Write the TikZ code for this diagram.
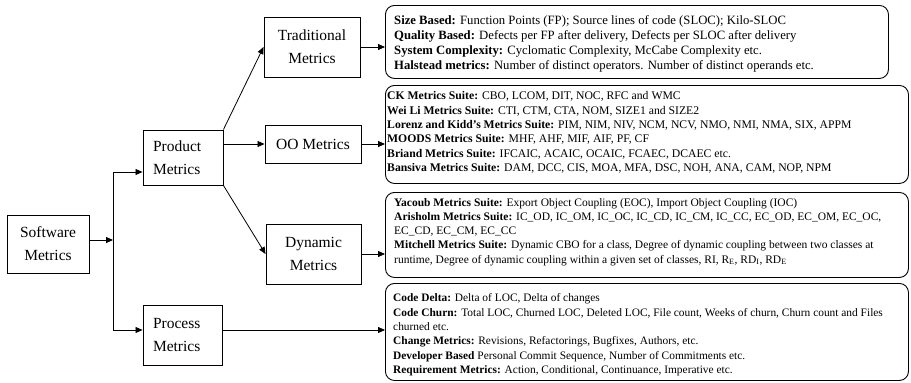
\documentclass[tikz,border=0pt]{standalone}
\usepackage{fontspec}
\setmainfont{Liberation Serif}
\usetikzlibrary{arrows.meta}
\begin{document}
\begin{tikzpicture}[x=1pt,y=-1pt,
  catbox/.style={draw,line width=0.9pt,minimum width=#1,inner sep=0pt,font=\fontsize{15.5}{23}\selectfont,align=center},
  leftbox/.style={draw,line width=0.9pt,minimum width=#1,inner sep=0pt,font=\fontsize{15.5}{23}\selectfont,align=left},
  listframe/.style={draw,line width=0.9pt,rounded corners=9pt,anchor=north west,inner sep=0pt,minimum width=523pt},
  listtext/.style={anchor=west,inner sep=0pt,align=left},
  arr/.style={line width=0.8pt,-{Triangle[length=7pt,width=6pt]}},
  ln/.style={line width=0.8pt}]
\useasboundingbox (0,0) rectangle (911,383);
% left boxes
\node[catbox=82pt,minimum height=58pt] (soft) at (48,244) {Software\\Metrics};
\node[leftbox=80pt,minimum height=55pt,text width=60pt,inner xsep=10pt] (prod) at (183,157.5) {Product\\Metrics};
\node[leftbox=79pt,minimum height=60pt,text width=59pt,inner xsep=10pt] (proc) at (182.5,335) {Process\\Metrics};
\node[catbox=96pt,minimum height=60pt] (trad) at (312,47) {Traditional\\Metrics};
\node[catbox=96pt,minimum height=38pt] (oo) at (313,144) {OO Metrics};
\node[catbox=95pt,minimum height=60pt] (dyn) at (313.5,254) {Dynamic\\Metrics};
% right boxes (frames)
\node[listframe,minimum width=503pt,minimum height=73pt] (b1) at (385,5) {};
\node[listframe,minimum height=98pt] (b2) at (385,85) {};
\node[listframe,minimum height=85pt] (b3) at (385,192) {};
\node[listframe,minimum height=97pt] (b4) at (385,283) {};
% texts (yshift is in page direction: positive = up)
\node[listtext,font=\fontsize{12.7}{14.8}\selectfont] (t1) at ([xshift=9pt,yshift=-2pt]b1.west) {%
\textbf{Size Based:} Function Points (FP); Source lines of code (SLOC); Kilo-SLOC\\
\textbf{Quality Based:} Defects per FP after delivery, Defects per SLOC after delivery\\
\textbf{System Complexity:} Cyclomatic Complexity, McCabe Complexity etc.\\
\textbf{Halstead metrics:} Number of distinct operators. Number of distinct operands etc.};
\node[listtext,font=\fontsize{11.7}{14.4}\selectfont] (t2) at ([xshift=2pt,yshift=2pt]b2.west) {%
\textbf{CK Metrics Suite:} CBO, LCOM, DIT, NOC, RFC and WMC\\
\textbf{Wei Li Metrics Suite:} CTI, CTM, CTA, NOM, SIZE1 and SIZE2\\
\textbf{Lorenz and Kidd’s Metrics Suite:} PIM, NIM, NIV, NCM, NCV, NMO, NMI, NMA, SIX, APPM\\
\textbf{MOODS Metrics Suite:} MHF, AHF, MIF, AIF, PF, CF\\
\textbf{Briand Metrics Suite:} IFCAIC, ACAIC, OCAIC, FCAEC, DCAEC etc.\\
\textbf{Bansiva Metrics Suite:} DAM, DCC, CIS, MOA, MFA, DSC, NOH, ANA, CAM, NOP, NPM};
\node[listtext,font=\fontsize{11.5}{14.2}\selectfont] (t3) at ([xshift=9pt,yshift=3pt]b3.west) {%
\textbf{Yacoub Metrics Suite:} Export Object Coupling (EOC), Import Object Coupling (IOC)\\
\textbf{Arisholm Metrics Suite:} IC\_OD, IC\_OM, IC\_OC, IC\_CD, IC\_CM, IC\_CC, EC\_OD, EC\_OM, EC\_OC,\\
EC\_CD, EC\_CM, EC\_CC\\
\textbf{Mitchell Metrics Suite:} Dynamic CBO for a class, Degree of dynamic coupling between two classes at\\
runtime, Degree of dynamic coupling within a given set of classes, RI, R\textsubscript{E}, RD\textsubscript{I}, RD\textsubscript{E}};
\node[listtext,font=\fontsize{11.4}{14.4}\selectfont] (t4) at ([xshift=8pt,yshift=-3pt]b4.west) {%
\textbf{Code Delta:} Delta of LOC, Delta of changes\\
\textbf{Code Churn:} Total LOC, Churned LOC, Deleted LOC, File count, Weeks of churn, Churn count and Files\\
churned etc.\\
\textbf{Change Metrics:} Revisions, Refactorings, Bugfixes, Authors, etc.\\
\textbf{Developer Based} Personal Commit Sequence, Number of Commitments etc.\\
\textbf{Requirement Metrics:} Action, Conditional, Continuance, Imperative etc.};
% connectors
\coordinate (j) at (113,240);
\coordinate (jp) at (113,172);
\coordinate (jq) at (113,330);
\draw[arr] (soft.east |- j) -- (j);
\draw[ln] (jp) -- (jq);
\draw[arr] (jp) -- (prod.west |- jp);
\draw[arr] (jq) -- (proc.west |- jq);
\draw[arr] (prod.north east) -- (trad.west);
\draw[arr] (prod.east |- oo.west) -- (oo.west);
\draw[arr] (prod.south east) -- (dyn.west);
\draw[arr] (trad.east) -- (b1.west |- trad.east);
\draw[arr] (oo.east) -- (b2.west |- oo.east);
\draw[arr] (dyn.east) -- (b3.west |- dyn.east);
\draw[arr] (proc.east |- jq) -- (b4.west |- jq);
\end{tikzpicture}
\end{document}
